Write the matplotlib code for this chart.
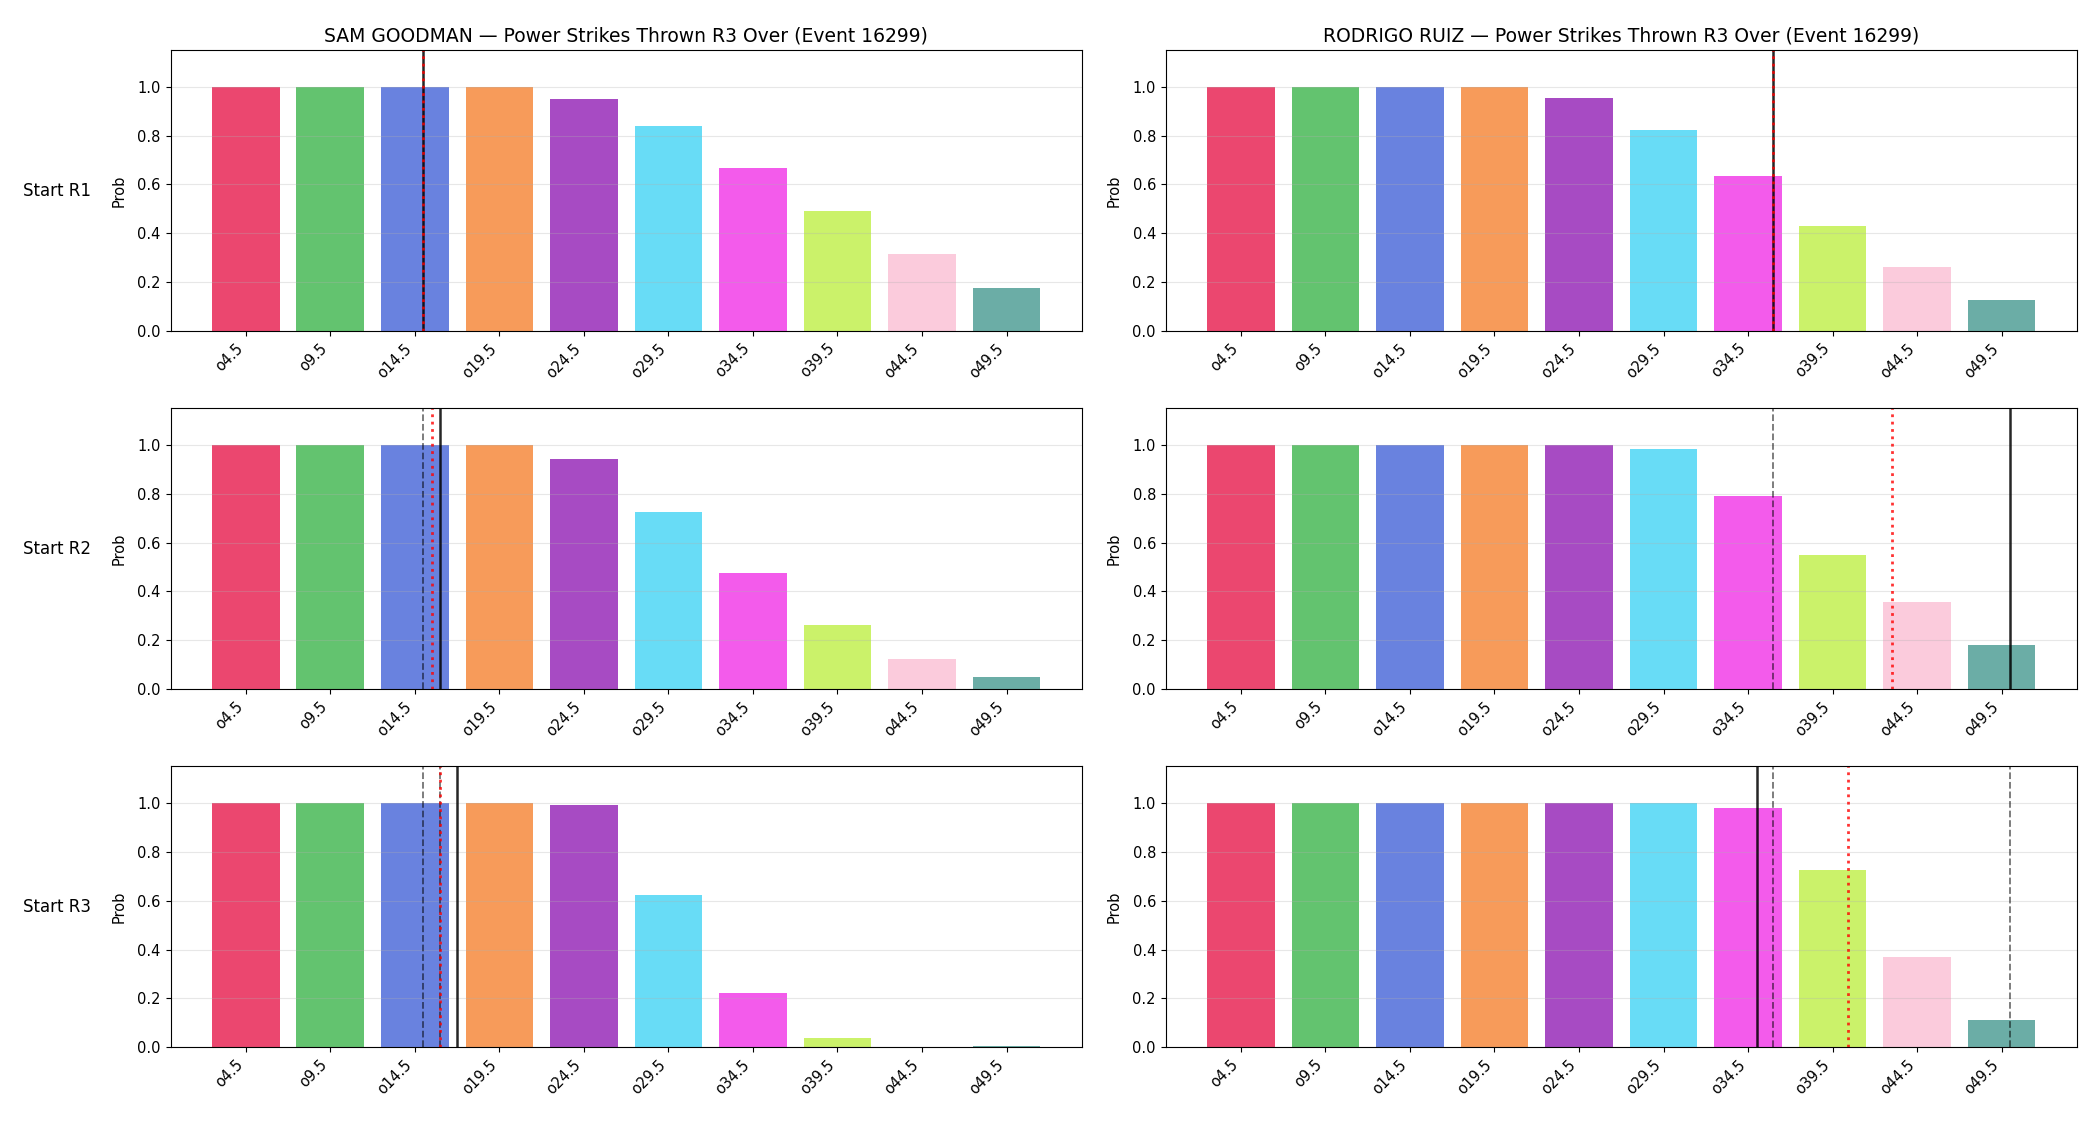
import numpy as np
import matplotlib
matplotlib.use("Agg")
import matplotlib.pyplot as plt

# thresholds (over lines)
thresholds = [4.5, 9.5, 14.5, 19.5, 24.5, 29.5, 34.5, 39.5, 44.5, 49.5]
tick_labels = ["o4.5", "o9.5", "o14.5", "o19.5", "o24.5", "o29.5", "o34.5", "o39.5", "o44.5", "o49.5"]
bar_colors = ["#e6194b", "#3cb44b", "#4363d8", "#f58231", "#911eb4",
              "#42d4f4", "#f032e6", "#bfef45", "#fabed4", "#469990"]

fighters = ["SAM GOODMAN", "RODRIGO RUIZ"]
rounds = ["Start R1", "Start R2", "Start R3"]
event_id = 16299

# P(over) per threshold, per fighter per round
goodman_r1 = [1.0, 1.0, 1.0, 1.0, 0.948, 0.837, 0.668, 0.492, 0.315, 0.175]
goodman_r2 = [1.0, 1.0, 1.0, 1.0, 0.941, 0.724, 0.474, 0.261, 0.122, 0.052]
goodman_r3 = [1.0, 1.0, 1.0, 1.0, 0.993, 0.624, 0.223, 0.038, 0.003, 0.005]
ruiz_r1 = [1.0, 1.0, 1.0, 1.0, 0.952, 0.821, 0.636, 0.430, 0.262, 0.126]
ruiz_r2 = [1.0, 1.0, 1.0, 1.0, 1.0, 0.982, 0.790, 0.548, 0.355, 0.179]
ruiz_r3 = [1.0, 1.0, 1.0, 1.0, 1.0, 1.0, 0.981, 0.727, 0.370, 0.112]

# reference lines (in strike counts)
goodman_current = [15, 16, 17]
goodman_proj = [15, 15.5, 16]
goodman_prev = [[], [15], [15, 16]]
ruiz_current = [36, 50, 35]
ruiz_proj = [36, 43, 40.4]
ruiz_prev = [[], [36], [36, 50]]

probs = [[goodman_r1, goodman_r2, goodman_r3], [ruiz_r1, ruiz_r2, ruiz_r3]]
current = [goodman_current, ruiz_current]
proj = [goodman_proj, ruiz_proj]
prev = [goodman_prev, ruiz_prev]


def to_pos(v):
    # map a strike count onto the categorical threshold axis
    return (v - thresholds[0]) / (thresholds[1] - thresholds[0])


fig, axes = plt.subplots(3, 2, figsize=(21, 11.25), dpi=100)
fig.subplots_adjust(left=0.0812, right=0.989, bottom=0.069, top=0.9556,
                    wspace=0.092, hspace=0.274)

x = np.arange(len(thresholds))
for c in range(2):
    for r in range(3):
        ax = axes[r, c]
        ax.bar(x, probs[c][r], color=bar_colors, alpha=0.8, width=0.8)
        for v in prev[c][r]:
            ax.axvline(to_pos(v), color="black", linestyle="--", linewidth=1.3, alpha=0.55)
        ax.axvline(to_pos(current[c][r]), color="black", linewidth=1.8, alpha=0.85)
        ax.axvline(to_pos(proj[c][r]), color="red", linestyle=":", linewidth=2, alpha=0.8)
        ax.set_xticks(x)
        ax.set_xticklabels(tick_labels, rotation=45, ha="right")
        ax.set_ylim(0, 1.15)
        ax.set_ylabel("Prob", fontsize=10.5, labelpad=8)
        ax.tick_params(labelsize=10.5)
        ax.grid(axis="y", alpha=0.3)
        if r == 0:
            ax.set_title(f"{fighters[c]} — Power Strikes Thrown R3 Over (Event {event_id})",
                         fontsize=13.5)

for r in range(3):
    pos = axes[r, 0].get_position()
    fig.text(0.027, (pos.y0 + pos.y1) / 2, rounds[r], ha="center", va="center", fontsize=12)

fig.savefig("out.png", dpi=100)
